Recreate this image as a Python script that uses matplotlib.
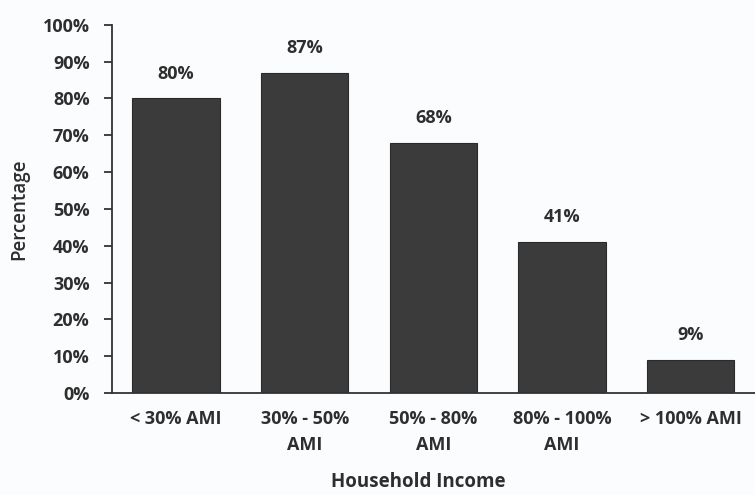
import matplotlib
matplotlib.use("Agg")
import matplotlib.pyplot as plt
import numpy as np

# data
categories = ["< 30% AMI", "30% - 50%\nAMI", "50% - 80%\nAMI", "80% - 100%\nAMI", "> 100% AMI"]
values = [80, 87, 68, 41, 9]
y_ticks = [0, 10, 20, 30, 40, 50, 60, 70, 80, 90, 100]

plt.rcParams["font.family"] = ["Open Sans", "DejaVu Sans"]
text_col = "#2e2e2e"
bar_col = "#3b3b3b"
bg = "#fbfcfd"

fig = plt.figure(figsize=(7.55, 4.95), dpi=100, facecolor=bg)
ax = fig.add_axes([0.148, 0.206, 0.852, 0.744], facecolor=bg)

x = np.arange(len(categories))
bars = ax.bar(x, values, width=0.68, color=bar_col, edgecolor="#2a2a2a", linewidth=0.8, zorder=2)

for b, v in zip(bars, values):
    ax.text(b.get_x() + b.get_width() / 2, v + 4.3, f"{v}%", ha="center", va="bottom",
            fontsize=13, fontweight="bold", color=text_col)

ax.set_xlim(-0.5, 4.5)
ax.set_ylim(0, 100)
ax.set_yticks(y_ticks)
ax.set_yticklabels([f"{t}%" for t in y_ticks])
ax.set_xticks(x)
ax.set_xticklabels(categories, linespacing=1.6)

for s in ["top", "right"]:
    ax.spines[s].set_visible(False)
for s in ["left", "bottom"]:
    ax.spines[s].set_color("#333333")
    ax.spines[s].set_linewidth(1.3)

ax.tick_params(axis="y", direction="out", length=6, width=1.3, color="#333333",
               pad=10, labelsize=13, labelcolor=text_col)
ax.tick_params(axis="x", length=0, pad=12, labelsize=13, labelcolor=text_col)
for lbl in ax.get_xticklabels() + ax.get_yticklabels():
    lbl.set_fontweight("bold")

ax.set_xlabel("Household Income", fontsize=13.5, fontweight="bold", color=text_col)
ax.xaxis.set_label_coords(0.477, -0.215)
ax.set_ylabel("Percentage", fontsize=13.5, fontweight="semibold", color=text_col)
ax.yaxis.set_label_coords(-0.128, 0.5)

fig.savefig("out.png", dpi=100, facecolor=bg)
